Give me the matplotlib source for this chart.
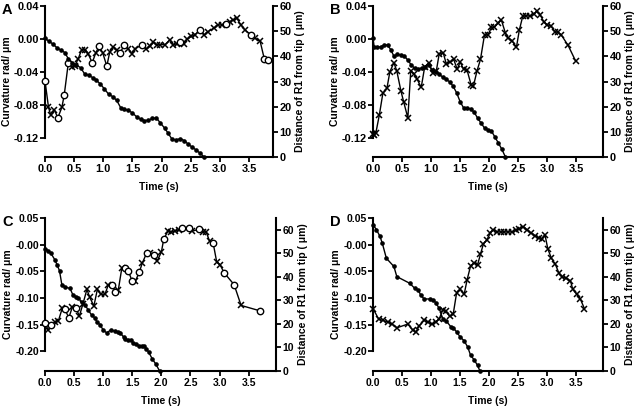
import numpy as np
import matplotlib
matplotlib.use('Agg')
import matplotlib.pyplot as plt

plt.rcParams['font.family'] = ['Liberation Sans', 'DejaVu Sans']
plt.rcParams['font.weight'] = 'bold'
plt.rcParams['axes.labelweight'] = 'bold'

# ---- panel A ----
a_tc = [0.00,0.06,0.10,0.16,0.22,0.29,0.33,0.40,0.46,0.51,0.57,0.63,0.69,0.74,0.81,0.87,0.93,0.99,1.06,1.11,
        1.17,1.23,1.29,1.36,1.43,1.49,1.55,1.66,1.74,1.80,1.86,1.92,1.98,2.06,2.14,2.20,2.26,2.32,2.38,2.44,
        2.51,2.57,2.66,2.73,2.80,2.89,2.97,3.03,3.10,3.17,3.23,3.29,3.36,3.43,3.53,3.60,3.69,3.76,3.82]
a_curv = [-0.051,-0.083,-0.093,-0.086,-0.096,-0.083,-0.068,-0.029,-0.034,-0.033,-0.024,-0.013,-0.013,-0.018,-0.029,
          -0.017,-0.009,-0.017,-0.033,-0.016,-0.010,-0.014,-0.017,-0.007,-0.012,-0.018,-0.012,-0.007,-0.012,-0.009,
          -0.004,-0.007,-0.007,-0.007,-0.001,-0.007,-0.006,-0.004,-0.006,0.000,0.003,0.005,0.011,0.005,0.009,
          0.013,0.017,0.017,0.018,0.021,0.023,0.025,0.017,0.011,0.005,0.001,-0.003,-0.024,-0.026]
a_marks = "oxxxoxooxx" "xxxxoxoxox" "xxooxxxoxx" "xxxxxxxoxx" "xxoxxxxxox" "xxxxoxxoo"
a_td = [0.00,0.07,0.14,0.20,0.27,0.34,0.40,0.47,0.54,0.61,0.68,0.75,0.82,0.88,0.95,1.02,1.09,1.16,1.23,1.30,
        1.36,1.43,1.50,1.57,1.64,1.70,1.77,1.84,1.91,1.98,2.05,2.11,2.18,2.25,2.32,2.39,2.46,2.52,2.59,2.66,2.73]
a_dist = [47.1,46.0,44.8,43.5,42.5,41.5,39.0,37.5,36.5,35.5,33.0,32.5,31.5,30.5,29.0,27.0,25.0,24.0,22.5,19.5,
          19.0,18.5,17.5,16.0,15.0,14.5,14.6,15.3,15.5,13.5,11.5,9.5,7.0,6.8,7.3,6.5,5.0,4.0,2.8,1.5,0.0]

# ---- panel B ----
b_tc = [0.00,0.02,0.05,0.11,0.17,0.24,0.29,0.36,0.41,0.48,0.53,0.60,0.65,0.71,0.76,0.83,0.89,0.96,1.03,1.09,
        1.14,1.21,1.26,1.33,1.39,1.45,1.50,1.56,1.62,1.69,1.73,1.79,1.85,1.92,1.98,2.04,2.09,2.15,2.21,2.28,
        2.33,2.39,2.47,2.52,2.58,2.64,2.71,2.77,2.82,2.88,2.94,3.00,3.06,3.13,3.18,3.24,3.36,3.49]
b_curv = [-0.115,-0.117,-0.114,-0.092,-0.066,-0.060,-0.040,-0.029,-0.039,-0.063,-0.077,-0.096,-0.039,-0.043,-0.049,
          -0.059,-0.034,-0.029,-0.041,-0.039,-0.018,-0.017,-0.030,-0.028,-0.025,-0.037,-0.028,-0.037,-0.038,-0.056,
          -0.057,-0.039,-0.025,0.005,0.005,0.014,0.014,0.019,0.023,0.007,0.001,-0.002,-0.010,0.011,0.028,
          0.028,0.028,0.030,0.034,0.029,0.021,0.017,0.016,0.009,0.008,0.005,-0.008,-0.027]
b_marks = "x" * len(b_tc)
b_td = [0.00,0.02,0.07,0.13,0.19,0.25,0.31,0.36,0.42,0.48,0.54,0.60,0.66,0.72,0.78,0.84,0.90,0.96,1.02,1.08,
        1.14,1.20,1.26,1.32,1.38,1.44,1.50,1.56,1.62,1.68,1.74,1.80,1.86,1.92,1.98,2.04,2.10,2.16,2.22,2.28]
b_dist = [47.1,43.8,43.6,43.8,44.5,44.5,42.5,40.0,40.8,40.5,40.1,38.5,36.5,35.2,34.8,35.5,35.8,36.5,34.5,33.8,
          32.8,31.8,30.8,29.9,28.1,25.5,22.0,19.5,19.6,19.0,17.9,15.5,13.5,11.5,10.8,10.3,7.9,5.5,3.0,0.0]

# ---- panel C ----
c_tc = [0.00,0.06,0.10,0.17,0.23,0.30,0.34,0.41,0.47,0.53,0.59,0.65,0.72,0.77,0.84,0.90,0.96,1.03,1.09,1.15,
        1.21,1.26,1.32,1.38,1.43,1.50,1.55,1.62,1.67,1.75,1.80,1.87,1.93,2.00,2.04,2.11,2.17,2.23,2.30,2.35,
        2.47,2.52,2.65,2.71,2.77,2.83,2.89,2.95,3.01,3.08,3.25,3.37,3.69]
c_curv = [-0.147,-0.161,-0.151,-0.145,-0.143,-0.118,-0.121,-0.137,-0.117,-0.118,-0.134,-0.112,-0.084,-0.099,-0.115,
          -0.084,-0.093,-0.093,-0.075,-0.075,-0.088,-0.085,-0.044,-0.044,-0.049,-0.069,-0.069,-0.052,-0.035,-0.015,
          -0.016,-0.020,-0.030,-0.014,0.010,0.025,0.024,0.025,0.028,0.032,0.031,0.025,0.029,0.024,0.024,
          0.006,0.003,-0.032,-0.038,-0.053,-0.075,-0.114,-0.124]
c_marks = "oxoxxxooxo" "xxxxxxxxxo" "oxxoooxoxo" "xoxxoxxxxo" "oxoxxxoxxo" "oxo"
c_td = [0.00,0.06,0.10,0.17,0.21,0.25,0.29,0.35,0.43,0.48,0.53,0.57,0.63,0.69,0.74,0.80,0.86,0.89,0.95,1.00,
        1.06,1.14,1.20,1.25,1.29,1.35,1.38,1.43,1.48,1.52,1.56,1.61,1.66,1.70,1.74,1.78,1.84,1.90,1.97]
c_dist = [51.8,51.0,50.1,47.2,45.0,42.5,36.6,35.6,35.1,32.3,31.5,30.9,29.5,28.0,26.0,23.8,22.5,20.9,19.5,17.4,
          16.2,17.6,16.8,16.6,16.2,14.5,13.4,13.2,13.1,11.7,11.5,10.7,10.6,10.7,9.5,8.1,5.3,3.1,0.0]

# ---- panel D ----
d_tc = [0.00,0.10,0.17,0.25,0.33,0.41,0.60,0.69,0.74,0.79,0.88,0.95,1.02,1.08,1.14,1.20,1.25,1.32,1.38,1.44,
        1.50,1.57,1.62,1.68,1.74,1.80,1.85,1.90,1.96,2.02,2.07,2.14,2.20,2.26,2.33,2.40,2.46,2.52,2.59,2.65,
        2.72,2.79,2.85,2.91,2.96,3.01,3.07,3.14,3.20,3.25,3.32,3.40,3.44,3.51,3.57,3.64]
d_curv = [-0.120,-0.140,-0.142,-0.145,-0.149,-0.156,-0.149,-0.161,-0.164,-0.153,-0.142,-0.146,-0.149,-0.145,-0.139,
          -0.123,-0.125,-0.134,-0.131,-0.090,-0.084,-0.093,-0.066,-0.040,-0.034,-0.038,-0.018,0.001,0.009,0.022,
          0.028,0.024,0.024,0.024,0.024,0.024,0.027,0.030,0.034,0.028,0.022,0.017,0.012,0.010,0.019,
          -0.008,-0.025,-0.037,-0.053,-0.060,-0.063,-0.068,-0.084,-0.093,-0.102,-0.120]
d_marks = "x" * len(d_tc)
d_td = [0.00,0.06,0.12,0.16,0.23,0.36,0.41,0.63,0.72,0.78,0.82,0.88,0.98,1.04,1.08,1.14,1.20,1.26,1.34,1.38,
        1.44,1.50,1.57,1.63,1.68,1.74,1.80,1.84]
d_dist = [62.2,60.0,57.2,54.3,47.9,44.4,40.1,37.3,35.1,34.4,32.3,30.6,30.6,30.2,29.0,26.6,22.3,21.3,18.8,18.4,
          16.6,14.5,12.8,10.2,6.7,4.8,2.4,0.0]

time_ticks = [0.0, 0.5, 1.0, 1.5, 2.0, 2.5, 3.0, 3.5]
time_labels = ['0.0', '0.5', '1.0', '1.5', '2.0', '2.5', '3.0', '3.5']
top_curv_ticks = [0.04, 0.00, -0.04, -0.08, -0.12]
top_curv_labels = ['0.04', '0.00', '-0.04', '-0.08', '-0.12']
bot_curv_ticks = [0.05, 0.00, -0.05, -0.10, -0.15, -0.20]
bot_curv_labels = ['0.05', '-0.00', '-0.05', '-0.10', '-0.15', '-0.20']
dist_ticks = [0, 10, 20, 30, 40, 50, 60]

W, H = 640.0, 407.0
fig = plt.figure(figsize=(6.4, 4.07), dpi=100)

LAB_FS = 7.5


def draw_panel(px, letter, tc, curv, marks, td, dist, cticks, clabels, cylim, dylim, xmax, tick_fs):
    # px = (left, top, right, bottom) in pixels
    l, t, r, b = px
    ax = fig.add_axes([l / W, 1 - b / H, (r - l) / W, (b - t) / H])
    ax2 = ax.twinx()

    ax.plot(tc, curv, '-', color='k', lw=1, zorder=3)
    tc_a = np.array(tc)
    cv_a = np.array(curv)
    mk = np.array(list(marks))
    ax.plot(tc_a[mk == 'x'], cv_a[mk == 'x'], ls='none', marker='x', ms=4.8, mew=1.1,
            color='k', zorder=4, clip_on=False)
    ax.plot(tc_a[mk == 'o'], cv_a[mk == 'o'], ls='none', marker='o', ms=4.6, mew=1.0,
            mfc='white', mec='k', zorder=4, clip_on=False)

    ax2.plot(td, dist, '-', color='k', lw=1, marker='o', ms=2.3, clip_on=False)

    ax.set_xlim(0, xmax)
    ax.set_ylim(*cylim)
    ax2.set_ylim(*dylim)
    ax.set_xticks(time_ticks)
    ax.set_xticklabels(time_labels)
    ax.set_yticks(cticks)
    ax.set_yticklabels(clabels)
    ax2.set_yticks(dist_ticks)

    for s in ['top', 'right']:
        ax.spines[s].set_visible(False)
    for s in ['top', 'left', 'bottom']:
        ax2.spines[s].set_visible(False)
    ax.spines['left'].set_bounds(min(cticks), max(cticks))
    for s in ['left', 'bottom']:
        ax.spines[s].set_linewidth(1.5)
    ax2.spines['right'].set_linewidth(1.5)

    ax.tick_params(direction='out', length=3.6, width=1.3, labelsize=tick_fs, pad=0.8)
    ax.tick_params(axis='x', pad=1.5)
    ax2.tick_params(direction='out', length=3.6, width=1.3, labelsize=tick_fs, pad=1.2)
    for lab in ax.get_xticklabels() + ax.get_yticklabels() + ax2.get_yticklabels():
        lab.set_fontweight('bold')

    ax.set_xlabel('Time (s)', fontsize=LAB_FS, fontweight='bold', labelpad=6)
    ax.set_ylabel('Curvature rad/ \u03bcm', fontsize=LAB_FS, fontweight='bold', labelpad=1.5)
    ax2.set_ylabel('Distance of R1 from tip ( \u03bcm)', fontsize=LAB_FS, fontweight='bold', labelpad=2.5)

    fig.text((l - 43) / W, 1 - (t - 3) / H, letter, fontsize=10.5, fontweight='bold',
             ha='left', va='top')


draw_panel((45, 6, 273, 157), 'A', a_tc, a_curv, a_marks, a_td, a_dist,
           top_curv_ticks, top_curv_labels, (-0.1435, 0.04), (0, 60), 3.91, 7.9)
draw_panel((373, 6, 603, 157), 'B', b_tc, b_curv, b_marks, b_td, b_dist,
           top_curv_ticks, top_curv_labels, (-0.1435, 0.04), (0, 60), 3.96, 7.9)
draw_panel((45, 218, 276, 371), 'C', c_tc, c_curv, c_marks, c_td, c_dist,
           bot_curv_ticks, bot_curv_labels, (-0.237, 0.05), (0, 65), 3.97, 7.5)
draw_panel((373, 218, 603, 371), 'D', d_tc, d_curv, d_marks, d_td, d_dist,
           bot_curv_ticks, bot_curv_labels, (-0.237, 0.05), (0, 65), 3.96, 7.5)

fig.savefig('out.png', dpi=100)
